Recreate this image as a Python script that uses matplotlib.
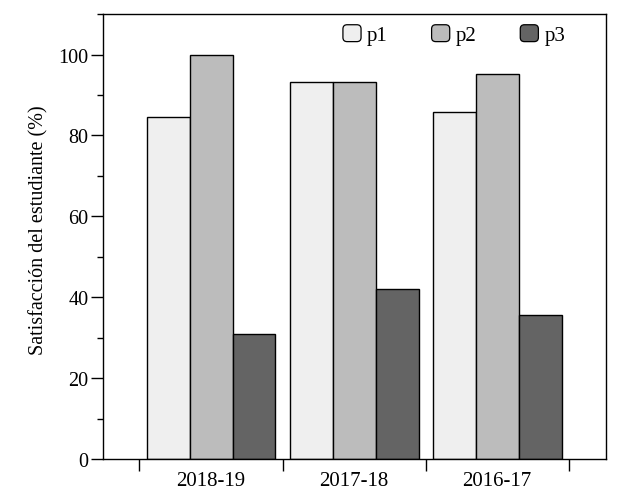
import numpy as np
import matplotlib
matplotlib.use("Agg")
import matplotlib.pyplot as plt
from matplotlib.patches import FancyBboxPatch, Patch
from matplotlib.legend_handler import HandlerPatch
from matplotlib.ticker import MultipleLocator, FixedLocator

# data
years = ["2018-19", "2017-18", "2016-17"]
p1 = [84.6, 93.3, 85.7]
p2 = [100.0, 93.3, 95.2]
p3 = [30.8, 42.0, 35.7]
series_names = ["p1", "p2", "p3"]
series_colors = ["#efefef", "#bcbcbc", "#646464"]

SERIF = ["Liberation Serif", "DejaVu Serif"]


class RoundBoxHandler(HandlerPatch):
    # legend keys drawn as small rounded squares
    def create_artists(self, legend, orig_handle, xdescent, ydescent,
                       width, height, fontsize, trans):
        p = FancyBboxPatch((-xdescent, -ydescent), width, height,
                           boxstyle="round,pad=0,rounding_size=3",
                           facecolor=orig_handle.get_facecolor(),
                           edgecolor="black", linewidth=0.9,
                           transform=trans)
        return [p]


fig = plt.figure(figsize=(6.25, 5.02), dpi=100)
ax = fig.add_axes([0.1648, 0.0837, 0.9696 - 0.1648, 0.970 - 0.0837])

x = np.arange(len(years))
width = 0.3
for i, (vals, col) in enumerate(zip([p1, p2, p3], series_colors)):
    ax.bar(x + (i - 1) * width, vals, width, color=col,
           edgecolor="black", linewidth=1.0, zorder=2)

ax.set_xlim(-0.755, 2.76)
ax.set_ylim(0, 110)

# y axis
ax.yaxis.set_major_locator(FixedLocator([0, 20, 40, 60, 80, 100]))
ax.yaxis.set_minor_locator(MultipleLocator(10))
ax.tick_params(axis="y", which="major", direction="out", length=8.6,
               width=1.0, labelsize=14.5, pad=2)
ax.tick_params(axis="y", which="minor", direction="out", length=4.3,
               width=1.0)
for lab in ax.get_yticklabels():
    lab.set_fontfamily(SERIF)

# x axis: ticks at group boundaries, labels at group centres
ax.xaxis.set_major_locator(FixedLocator([-0.5, 0.5, 1.5, 2.5]))
ax.xaxis.set_major_formatter(plt.NullFormatter())
ax.xaxis.set_minor_locator(FixedLocator(x))
ax.set_xticklabels(years, minor=True)
ax.tick_params(axis="x", which="major", direction="out", length=8.6,
               width=1.0)
ax.tick_params(axis="x", which="minor", length=0, labelsize=15, pad=9)
for lab in ax.get_xticklabels(minor=True):
    lab.set_fontfamily(SERIF)

for sp in ax.spines.values():
    sp.set_linewidth(1.0)

ax.set_ylabel("Satisfacción del estudiante (%)", fontsize=14.5,
              family=SERIF)
ax.yaxis.set_label_coords(-0.108, 0.517)

handles = [Patch(facecolor=c, edgecolor="black", label=n)
           for n, c in zip(series_names, series_colors)]
leg = ax.legend(handles=handles, loc="upper left", ncol=3, frameon=False,
                bbox_to_anchor=(0.477, 0.976),
                prop={"family": SERIF, "size": 15},
                handlelength=0.87, handleheight=0.87, handletextpad=0.29,
                columnspacing=2.1, borderpad=0, borderaxespad=0,
                handler_map={Patch: RoundBoxHandler()})

fig.savefig("out.png", dpi=100)
